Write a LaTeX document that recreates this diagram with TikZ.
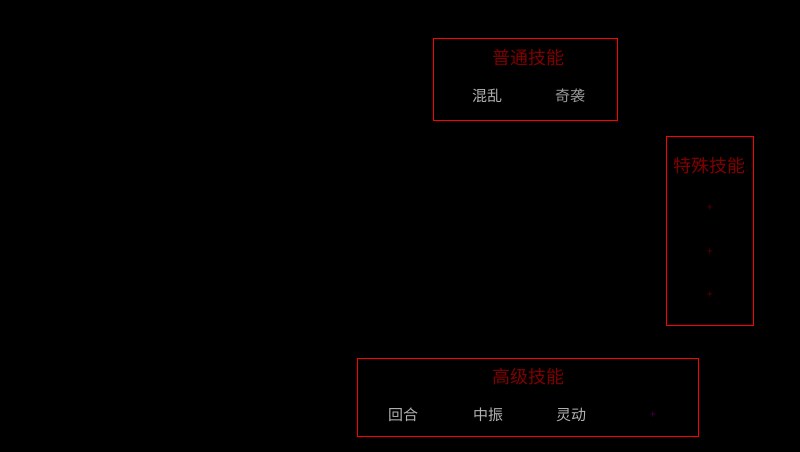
\documentclass[tikz,border=0pt]{standalone}
\usepackage{fontspec}
\setmainfont{Noto Sans CJK SC}
\begin{document}
\begin{tikzpicture}[x=1pt,y=-1pt,
  grp/.style={draw=red,line width=1pt},
  ttl/.style={text=red!50!black,font=\fontsize{18}{18}\selectfont,inner sep=0pt},
  itm/.style={text=gray!60,font=\fontsize{15}{15}\selectfont,inner sep=0pt},
  plus/.style={text=red!35!black,font=\fontsize{11}{11}\selectfont,inner sep=0pt}]
\fill[black] (0,0) rectangle (800,452);
\useasboundingbox (0,0) rectangle (800,452);
% 普通技能
\node[grp,minimum width=184pt,minimum height=82pt,anchor=north west] (g1) at (433,38) {};
\node[ttl] (t1) at (528,58) {普通技能};
\node[itm] (a1) at (487,96) {混乱};
\node[itm,text=gray!80] (a2) at (570,96) {奇袭};
% 特殊技能
\node[grp,minimum width=87pt,minimum height=189pt,anchor=north west] (g2) at (666,136) {};
\node[ttl] (t2) at (709,166) {特殊技能};
\node[plus] (p1) at (710,208) {+};
\node[plus] (p2) at (710,252) {+};
\node[plus] (p3) at (710,295) {+};
% 高级技能
\node[grp,minimum width=341pt,minimum height=78pt,anchor=north west] (g3) at (357,358) {};
\node[ttl] (t3) at (528,377) {高级技能};
\node[itm] (b1) at (403,415) {回合};
\node[itm] (b2) at (488,415) {中振};
\node[itm] (b3) at (571,415) {灵动};
\node[plus,text=violet!55!black] (b4) at (653,415) {+};
\end{tikzpicture}
\end{document}
